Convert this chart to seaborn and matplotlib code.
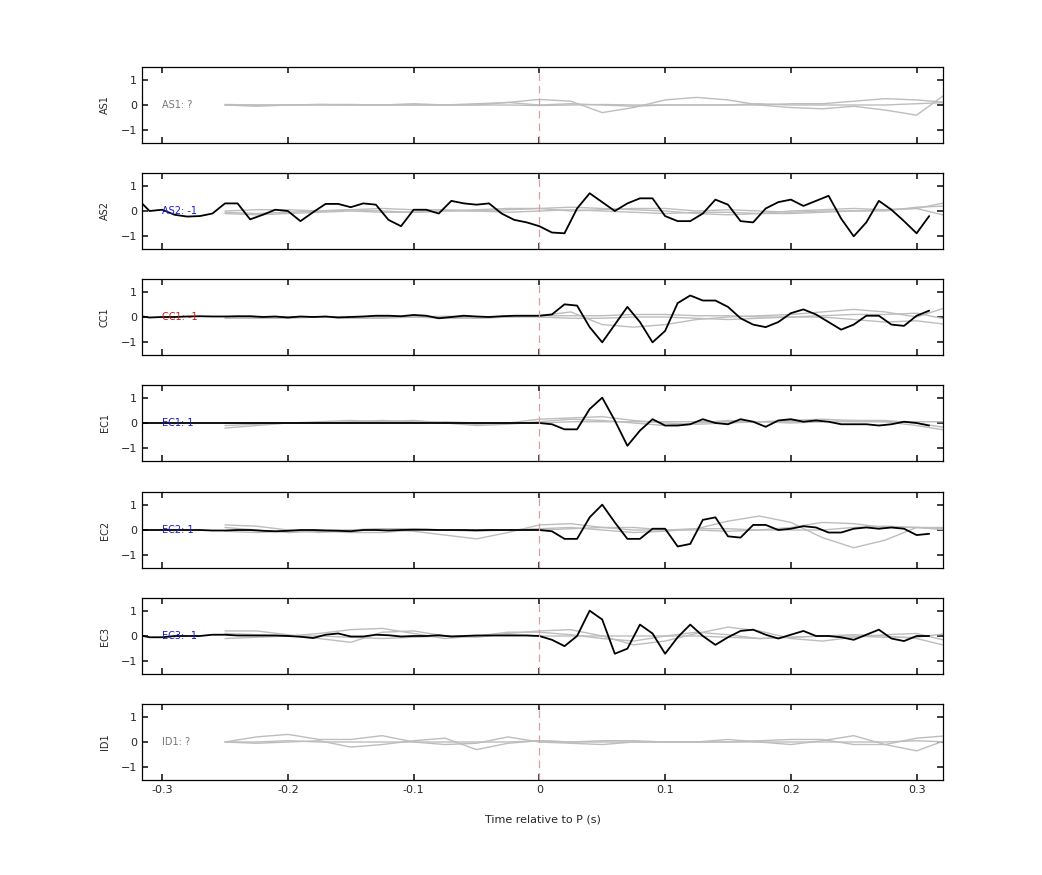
import numpy as np
import pandas as pd
import matplotlib
matplotlib.use("Agg")
import matplotlib.pyplot as plt
import seaborn as sns

sns.set_theme(style="white")
plt.rcParams['font.family'] = ['DejaVu Sans']

stations = ["AS1", "AS2", "CC1", "EC1", "EC2", "EC3", "ID1"]
labels = ["AS1: ?", "AS2: -1", "CC1: -1", "EC1: 1", "EC2: 1", "EC3: -1", "ID1: ?"]
label_colors = ["#777777", "#1a1acc", "#cc1a1a", "#1a1acc", "#1a1acc", "#1a1acc", "#777777"]

t_black = [round(-0.32 + 0.01 * i, 2) for i in range(64)]
black = {
    "AS2": [0.5, 0, 0.05, -0.15, -0.22, -0.2, -0.1, 0.3, 0.3, -0.33, -0.15, 0.05, 0, -0.4, -0.05, 0.28,
            0.28, 0.15, 0.3, 0.25, -0.35, -0.6, 0.05, 0.05, -0.1, 0.4, 0.3, 0.25, 0.3, -0.1, -0.35, -0.45,
            -0.6, -0.85, -0.88, 0.1, 0.7, 0.35, 0, 0.3, 0.5, 0.5, -0.2, -0.4, -0.4, -0.1, 0.45, 0.25,
            -0.4, -0.45, 0.1, 0.35, 0.45, 0.2, 0.4, 0.6, -0.3, -1.0, -0.45, 0.4, 0.05, -0.4, -0.88, -0.2],
    "CC1": [0.05, -0.02, 0, 0, 0.02, 0.03, 0.02, 0.02, 0.03, 0.03, 0, 0.02, -0.02, 0.02, 0, 0.02,
            -0.02, 0, 0.02, 0.05, 0.05, 0.03, 0.08, 0.05, -0.05, 0, 0.05, 0.02, 0, 0.03, 0.05, 0.05,
            0.05, 0.1, 0.5, 0.45, -0.4, -1.0, -0.3, 0.4, -0.2, -1.0, -0.55, 0.55, 0.85, 0.65, 0.65, 0.4,
            -0.05, -0.3, -0.4, -0.2, 0.15, 0.3, 0.1, -0.2, -0.5, -0.3, 0.05, 0.05, -0.3, -0.35, 0.05, 0.25],
    "EC1": [0, 0, 0, 0, 0, 0, 0, 0, 0, 0, 0, 0, 0, 0, 0, 0, 0, 0, 0, 0, 0, 0, 0, 0, 0, 0, 0, 0, 0, 0, 0, 0,
            0, -0.05, -0.25, -0.25, 0.55, 1.0, 0.1, -0.9, -0.3, 0.15, -0.1, -0.1, -0.05, 0.15, 0, -0.05,
            0.15, 0.05, -0.15, 0.1, 0.15, 0.05, 0.1, 0.05, -0.05, -0.05, -0.05, -0.1, -0.05, 0.05, 0.0, -0.1],
    "EC2": [0, 0, 0, 0, 0, 0, -0.02, -0.02, 0, 0, -0.03, -0.05, -0.03, 0, 0, -0.02, -0.03, -0.05, 0, 0, -0.02, 0,
            0.01, 0.01, 0, 0, 0, -0.01, 0, 0, 0, 0,
            0, -0.05, -0.35, -0.35, 0.5, 1.0, 0.3, -0.35, -0.35, 0.05, 0.05, -0.65, -0.55, 0.4, 0.5, -0.25,
            -0.3, 0.2, 0.2, 0, 0.05, 0.15, 0.1, -0.1, -0.1, 0.05, 0.1, 0.05, 0.1, 0.05, -0.2, -0.15],
    "EC3": [0.05, -0.05, -0.05, 0, 0, 0, 0.05, 0.05, 0.02, 0.02, 0.02, 0.02, 0, -0.03, -0.08, 0.05,
            0.1, -0.02, -0.02, 0.05, 0.03, -0.02, 0, 0, 0.03, -0.02, 0, 0.02, 0.02, 0.02, 0.02, 0.02,
            0, -0.15, -0.4, 0, 1.0, 0.65, -0.7, -0.5, 0.45, 0.1, -0.7, -0.05, 0.45, 0, -0.35, -0.05,
            0.2, 0.25, 0.05, -0.1, 0.05, 0.2, 0.0, 0.0, -0.05, -0.15, 0.05, 0.25, -0.1, -0.2, 0.0, 0.0],
}

t_gray = [round(-0.25 + 0.025 * i, 3) for i in range(24)]
gray = {
    "AS1": [[0, 0, 0, 0.02, 0.02, 0, 0, 0, 0, 0.1, 0.22, 0.15, -0.3, -0.1, 0.2, 0.3, 0.2, 0, -0.1, -0.15, -0.05, -0.2, -0.4, 0.5],
            [0, -0.05, 0, 0.02, 0, 0, 0.05, 0, 0.05, 0.1, 0, 0.05, 0, -0.05, 0, 0, 0, 0, 0.05, 0.05, 0.15, 0.25, 0.2, 0.1],
            [0.02, 0, 0, 0, 0, 0, 0, 0, 0, 0, -0.02, 0, 0.02, 0, 0, 0, 0, 0.05, 0, 0, 0, 0, 0.05, 0.1]],
    "AS2": [[-0.05, -0.1, -0.05, 0, 0.05, 0, -0.05, 0, 0.05, 0.1, 0.1, 0.15, 0.1, 0.05, 0, -0.1, -0.15, -0.1, 0, 0.05, 0.1, 0.05, 0.1, 0.35],
            [0, 0.05, 0.05, 0, 0.05, 0.1, 0.05, 0.05, 0, 0.05, 0.1, 0, 0.05, 0.1, 0.1, 0, 0.05, 0, -0.05, 0, 0, 0.05, 0.1, -0.2],
            [-0.1, -0.15, -0.1, -0.05, 0, -0.05, -0.05, 0, 0, -0.05, 0, 0.05, 0, -0.05, -0.1, -0.05, -0.05, -0.1, -0.1, -0.05, 0, 0, 0.15, 0.2]],
    "CC1": [[0, 0, 0, 0, 0, 0, 0, 0, -0.05, 0, 0.05, 0.2, -0.3, -0.4, -0.3, -0.1, 0, 0.05, 0.1, 0.2, 0.3, 0.2, 0, 0.4],
            [0, 0.02, 0, 0, 0.02, 0, 0, 0.03, 0, 0.02, 0.05, 0.05, 0.05, 0.1, 0.1, 0.05, 0.05, 0, 0, 0.05, 0.1, 0.1, 0.15, -0.1],
            [-0.05, -0.05, -0.05, 0, -0.05, -0.05, 0, -0.05, -0.05, 0, 0, -0.05, -0.05, 0, 0, -0.05, -0.1, -0.05, 0, 0, -0.1, -0.2, -0.15, -0.3]],
    "EC1": [[-0.2, -0.1, 0, 0.05, 0.1, 0.05, 0.1, 0, -0.05, 0, 0.15, 0.2, 0.25, 0.1, 0, -0.05, 0, 0.05, 0.1, 0.15, 0.1, 0.05, -0.1, -0.3],
            [-0.1, -0.05, 0, 0, 0.05, 0.1, 0.05, 0, -0.1, -0.05, 0.05, 0.15, 0.1, 0, -0.1, 0, 0.1, 0.05, 0, 0.05, 0.1, 0.1, 0, -0.2],
            [0, 0, 0, 0, 0, 0.05, 0, 0.05, 0, 0, 0, 0.05, 0.05, 0.05, 0.05, 0.05, 0.05, 0.05, 0.05, 0.05, 0.05, 0.05, 0.05, 0.05]],
    "EC2": [[0.2, 0.15, 0, -0.1, 0, 0.05, -0.05, -0.2, -0.35, -0.1, 0.2, 0.25, 0.1, 0, 0, 0.05, 0.35, 0.55, 0.3, -0.3, -0.7, -0.4, 0.1, 0.1],
            [0.1, 0, -0.1, -0.05, -0.1, -0.1, 0, 0, -0.05, 0, 0, 0.05, 0.1, 0.1, 0, 0, -0.05, 0, 0.1, 0.3, 0.25, 0.1, 0.1, 0],
            [-0.05, -0.1, -0.05, 0, 0, 0.05, 0.05, 0, 0, 0, 0.05, 0.1, 0, -0.1, -0.05, 0.05, 0.05, 0, 0, 0, 0.1, 0.15, 0.1, 0.05]],
    "EC3": [[0.2, 0.2, 0.05, -0.1, -0.25, 0.15, 0.2, 0, -0.05, 0.1, 0.2, 0.25, 0, -0.35, -0.2, 0.1, 0.35, 0.2, -0.1, -0.2, -0.05, 0.05, 0.1, -0.2],
            [0.1, 0.05, 0, 0.1, 0.25, 0.3, 0.1, -0.1, 0, 0.15, 0.15, 0.05, -0.1, -0.2, 0, 0.15, 0.05, -0.1, -0.05, 0, 0.05, 0, -0.1, -0.4],
            [-0.1, -0.05, 0, 0, -0.05, -0.1, -0.05, 0, 0, 0.05, 0, 0, 0, 0, 0, 0, -0.05, -0.1, -0.05, 0, 0, -0.05, -0.05, 0.1]],
    "ID1": [[0, 0.2, 0.3, 0.1, 0.1, 0.25, 0, -0.1, -0.05, 0.2, 0, -0.05, -0.1, 0, 0, 0, 0.1, 0, -0.1, 0.05, 0.25, -0.1, -0.35, 0.1],
            [0, -0.05, 0, 0.05, -0.2, -0.1, 0.05, 0.15, -0.3, -0.05, 0.05, 0, 0.05, 0.05, 0, 0, 0, 0.05, 0.1, 0.1, -0.1, -0.1, 0.15, 0.25],
            [0, 0, 0.05, 0, 0, 0, 0, 0, 0, 0, 0.05, 0, 0, 0, 0, 0, 0, 0, 0, 0, 0, 0, 0.05, 0]],
}

fig = plt.figure(figsize=(10.42, 8.75), dpi=100)
W, H = 1042, 875
left, right = 142, 943
ax_h = 76
tops = [67, 173, 279, 385, 492, 598, 704]
for i, st in enumerate(stations):
    ax = fig.add_axes([left / W, 1 - (tops[i] + ax_h) / H, (right - left) / W, ax_h / H])
    for g in gray.get(st, []):
        sns.lineplot(x=t_gray, y=g, ax=ax, color="#bdbdbd", lw=1.0)
    if st in black:
        sns.lineplot(x=t_black, y=black[st], ax=ax, color="black", lw=1.3)
    ax.axvline(0, color="#d9a0a0", lw=0.9, ls=(0, (6, 4)))
    ax.text(-0.3, 0, labels[i], color=label_colors[i], fontsize=7, va="center", ha="left")
    ax.set_xlim(-0.316, 0.321)
    ax.set_ylim(-1.5, 1.5)
    ax.set_yticks([-1, 0, 1])
    ax.set_xticks([-0.3, -0.2, -0.1, 0, 0.1, 0.2, 0.3])
    ax.set_ylabel(st, fontsize=7, labelpad=8)
    ax.tick_params(direction="in", length=4, labelsize=8, top=True, right=True, bottom=True, left=True)
    for s in ax.spines.values():
        s.set_color("black")
        s.set_linewidth(0.9)
    if i < len(stations) - 1:
        ax.set_xticklabels([])
    else:
        ax.set_xticklabels(["-0.3", "-0.2", "-0.1", "0", "0.1", "0.2", "0.3"])
        ax.set_xlabel("Time relative to P (s)", fontsize=8, labelpad=14)

fig.savefig("out.png", dpi=100)
